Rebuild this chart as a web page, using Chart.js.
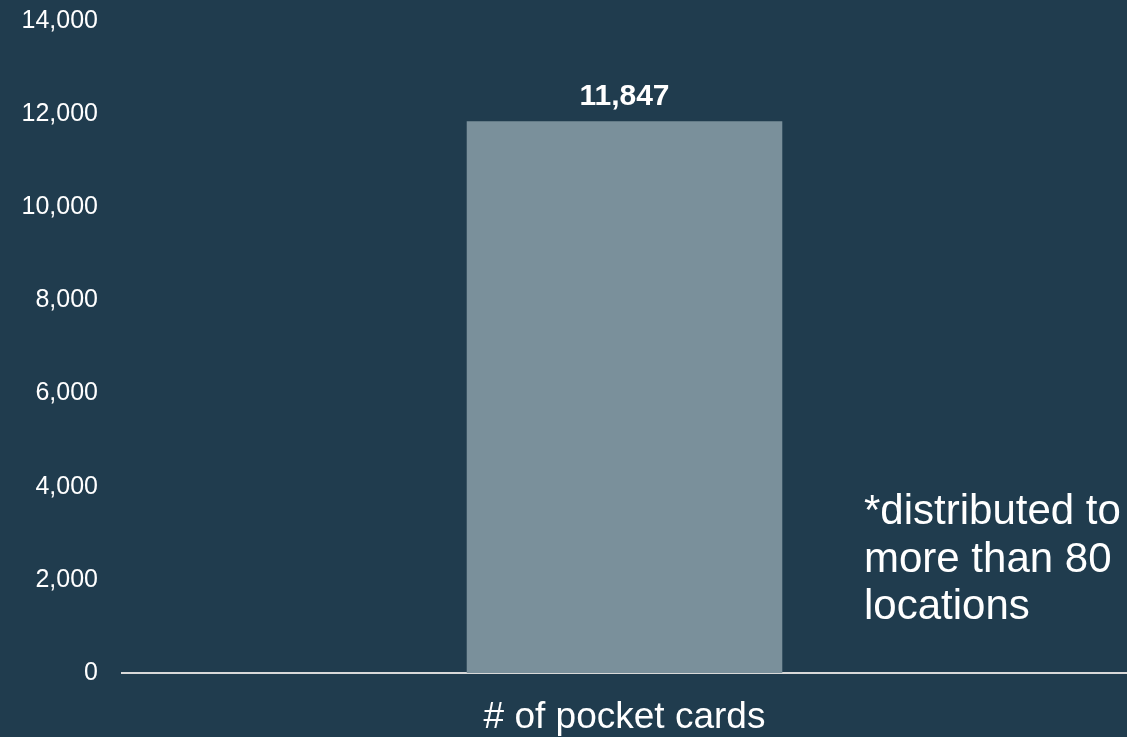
<!DOCTYPE html>
<html>
<head>
<meta charset="utf-8">
<script src="https://cdn.jsdelivr.net/npm/chart.js@4/dist/chart.umd.min.js"></script>
<style>
    html, body { margin: 0; padding: 0; background: #203c4e; }
    #wrap { width: 1127px; height: 737px; position: relative; }
</style>
</head>
<body>
<div id="wrap"><canvas id="chart"></canvas></div>
<script>
const categories = ['# of pocket cards'];
const cardCounts = [11847];
const yTicks = [0, 2000, 4000, 6000, 8000, 10000, 12000, 14000];
const noteLines = ['*distributed to', 'more than 80', 'locations'];

const fontFamily = '"Liberation Sans", Arial, sans-serif';

// 棒の上に値を描く
const valueLabels = {
    id: 'valueLabels',
    afterDatasetsDraw(chart) {
        const { ctx } = chart;
        const meta = chart.getDatasetMeta(0);
        ctx.save();
        ctx.fillStyle = '#ffffff';
        ctx.font = 'bold 30px ' + fontFamily;
        ctx.textAlign = 'center';
        ctx.textBaseline = 'alphabetic';
        meta.data.forEach((bar, i) => {
            ctx.fillText(cardCounts[i].toLocaleString('en-US'), bar.x, bar.y - 16);
        });
        ctx.restore();
    },
};

// 右側の注記
const sideNote = {
    id: 'sideNote',
    afterDraw(chart) {
        const { ctx } = chart;
        ctx.save();
        ctx.fillStyle = '#ffffff';
        ctx.font = '42px ' + fontFamily;
        ctx.textAlign = 'left';
        ctx.textBaseline = 'alphabetic';
        noteLines.forEach((line, i) => {
            ctx.fillText(line, 864, 524 + i * 47.5);
        });
        ctx.restore();
    },
};

new Chart(document.getElementById('chart'), {
    type: 'bar',
    data: {
        labels: categories,
        datasets: [{
            data: cardCounts,
            backgroundColor: '#7a909b',
            barPercentage: 0.314,
            categoryPercentage: 1.0,
        }],
    },
    options: {
        responsive: true,
        maintainAspectRatio: false,
        animation: false,
        layout: { padding: { top: 21, right: 0, left: 0, bottom: 0 } },
        plugins: {
            legend: { display: false },
            tooltip: { enabled: false },
        },
        scales: {
            x: {
                grid: { display: false },
                border: { display: true, color: '#d9d9d9', width: 2 },
                ticks: {
                    color: '#ffffff',
                    font: { family: fontFamily, size: 37 },
                    padding: 15,
                },
                afterFit(scale) { scale.height = 64; },
            },
            y: {
                min: 0,
                max: 14000,
                grid: { display: false },
                border: { display: false },
                afterBuildTicks(scale) {
                    scale.ticks = yTicks.map(v => ({ value: v }));
                },
                ticks: {
                    color: '#ffffff',
                    font: { family: fontFamily, size: 25 },
                    padding: 16,
                    callback: v => v.toLocaleString('en-US'),
                },
                afterFit(scale) {
                    scale.width = 122;
                    scale.paddingTop = 0;
                    scale.paddingBottom = 0;
                },
            },
        },
    },
    plugins: [valueLabels, sideNote],
});
</script>
</body>
</html>
